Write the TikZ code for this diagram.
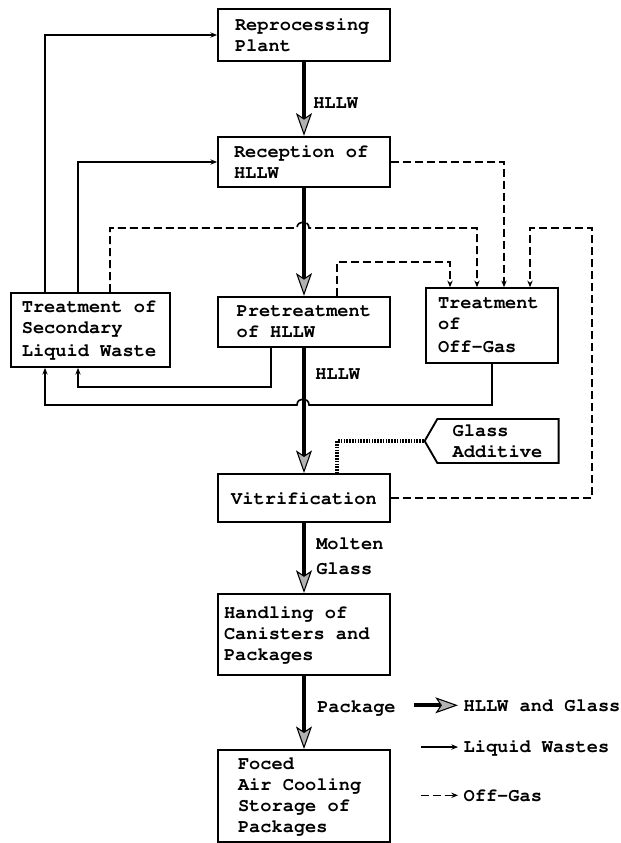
\documentclass[tikz,border=0pt]{standalone}
\usepackage[T1]{fontenc}
\usepackage{courier}
\usetikzlibrary{arrows.meta}
\usetikzlibrary{shapes.symbols}

\begin{document}
\begin{tikzpicture}[
    x=0.75pt, y=-0.75pt,
    txt/.style = {font=\ttfamily\bfseries\fontsize{14}{15.75}\selectfont},
    unit/.style = {txt, draw, line width=1.4pt, inner sep=0pt,
                minimum width=129pt, minimum height=#1, align=flush left},
    unit/.default = 38pt,  % box height
    lbl/.style = {txt, inner sep=0pt, anchor=base west, align=flush left},
    key/.style = {txt, inner sep=0pt, inner xsep=4pt, anchor=base west},
    hllw/.style = {line width=3pt, -{Stealth[length=17pt, width=12pt,
                inset=4pt, fill=gray!60, line width=0.8pt]}},
    liquid/.style = {line width=1.2pt, -{Stealth[length=5pt, width=4pt]}},
    offgas/.style = {line width=1.2pt, dash pattern=on 6pt off 3pt,
                -{Stealth[length=5pt, width=4pt]}},
    additive/.style = {line width=2.5pt, dash pattern=on 1.2pt off 0.9pt}
                    ]
    \useasboundingbox (0,0) rectangle (621,843);
    \def\cx{304}
    \def\hx{303}
    % main column
    \node[unit=39pt, text width=103.5pt] at (\cx,35) (rep) {Reprocessing\\Plant};
    \node[unit=38pt, text width=105pt] at (\cx,162) (rec) {Reception of\\HLLW};
    \node[unit=38pt, text width=101pt] at (\cx,322) (pre) {Pretreatment\\of HLLW};
    \node[unit=36pt] at (\cx,498) (vit) {Vitrification};
    \node[unit=61pt, text width=120pt] at (\cx,634.5) (han) {Handling of\\Canisters and\\Packages};
    \node[unit=69pt, text width=99pt] at (\cx,796) (sto) {Foced\\Air Cooling\\Storage of\\Packages};
    % side boxes
    \node[unit=55.5pt, minimum width=119pt, text width=103pt] at (90.5,330) (sec) {Treatment of\\Secondary\\[2pt]Liquid Waste};
    \node[unit=56pt, minimum width=99pt, text width=81pt] at (492,325.5) (off) {Treatment\\of\\[2pt]Off-Gas};
    \node[txt, draw, line width=1.4pt, shape=signal, signal to=west,
          signal pointer angle=120, minimum width=100.5pt, minimum height=33pt,
          inner sep=0pt, text width=68pt, align=flush left] at (498,441) (add) {Glass\\Additive};
    % labels
    \node[lbl] at (313,108) (l1) {HLLW};
    \node[lbl] at (315,379) (l2) {HLLW};
    \node[lbl] at (316,574) (l3) {Molten\\[3pt]Glass};
    \node[lbl] at (317,712) (l4) {Package};
    % legend
    \node[key] at (458,711) (lg1) {HLLW and Glass};
    \node[key] at (458,752) (lg2) {Liquid Wastes};
    \node[key] at (458,801) (lg3) {Off-Gas};
    \coordinate (k1) at ([xshift=-33pt]lg1.west);
    \coordinate (k2) at ([xshift=-28pt]lg2.west);
    \coordinate (k3) at ([xshift=-28pt]lg3.west);
    % HLLW and glass
    \draw[hllw] (rep) -- (rec);
    \draw[hllw] (rec) -- (pre);
    \draw[hllw] (pre) -- (vit);
    \draw[hllw] (vit) -- (han);
    \draw[hllw] (han) -- (sto);
    \draw[hllw] (k1) -- (lg1.west);
    % liquid wastes
    \draw[liquid] (45,0 |- sec.north) |- (rep.west);
    \draw[liquid] (78,0 |- sec.north) |- (rec.west);
    \draw[liquid] (271,0 |- pre.south) |- (78,387) -- (78,0 |- sec.south);
    \draw[liquid] (off.south) |- (\hx+6,405) .. controls (\hx+6,397) and (\hx-6,397) .. (\hx-6,405)
        -- (45,405) -- (45,0 |- sec.south);
    \draw[liquid] (k2) -- (lg2.west);
    % off-gas
    \draw[offgas] (rec.east) -| (504,0 |- off.north);
    \draw[offgas] (110,0 |- sec.north) |- (\hx-6,228) .. controls (\hx-6,220) and (\hx+6,220) .. (\hx+6,228)
        -| (477,0 |- off.north);
    \draw[offgas] (337,0 |- pre.north) |- (450,262) -- (450,0 |- off.north);
    \draw[offgas] (vit.east) -| (592,228) -| (530,0 |- off.north);
    \draw[offgas] (k3) -- (lg3.west);
    % glass additive
    \draw[additive] (add.west) -| (337,0 |- vit.north);
\end{tikzpicture}
\end{document}
